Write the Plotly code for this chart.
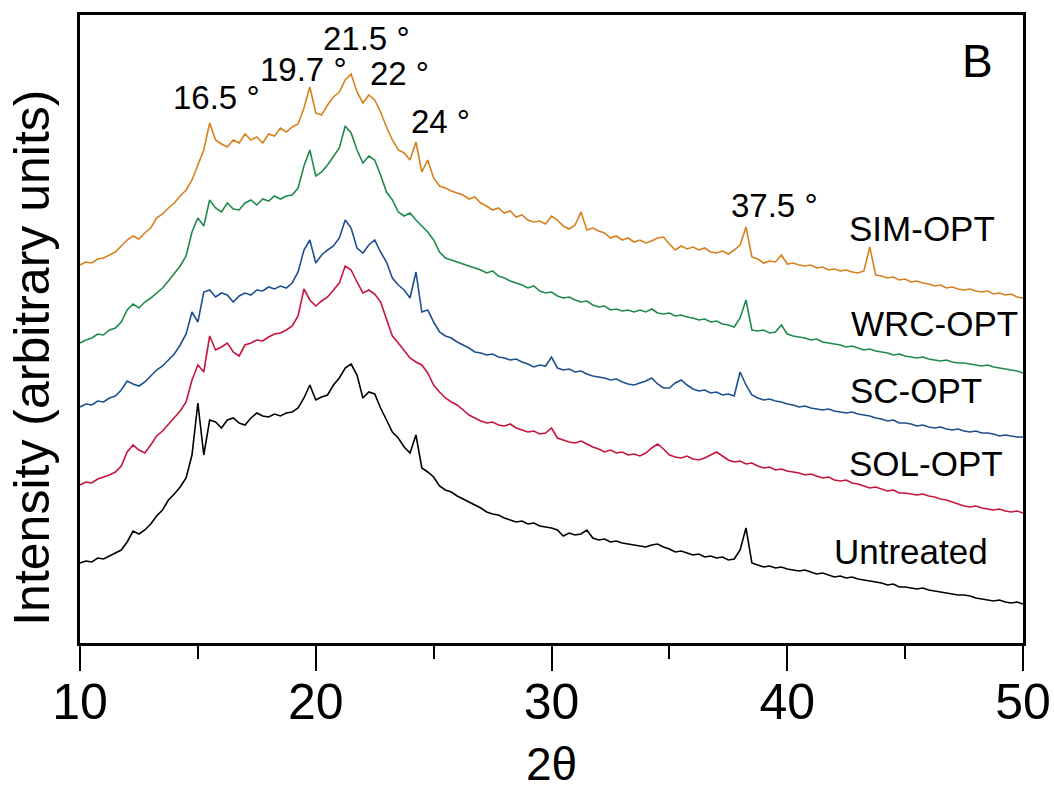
import numpy as np
import plotly.graph_objects as go

# 2-theta grid (degrees), 0.25 deg step
two_theta = [round(10 + 0.25 * i, 2) for i in range(161)]

sim_opt = [
    378, 381, 380, 384, 385, 388, 391, 397, 403, 407, 404, 410, 415, 425, 429, 435, 440, 447, 453, 463,
    478, 493, 520, 503, 499, 496, 503, 500, 509, 503, 506, 500, 509, 507, 515, 511, 516, 519, 535, 556,
    530, 528, 538, 546, 551, 563, 569, 551, 540, 548, 543, 531, 516, 503, 493, 490, 483, 501, 471, 483,
    465, 457, 455, 452, 450, 448, 444, 446, 440, 437, 433, 435, 430, 432, 426, 428, 423, 421, 422, 419,
    427, 423, 417, 414, 418, 431, 413, 415, 412, 410, 405, 407, 403, 405, 401, 403, 400, 402, 405, 406,
    399, 393, 397, 394, 396, 393, 395, 391, 390, 392, 389, 393, 398, 416, 386, 384, 380, 382, 381, 388,
    379, 380, 378, 377, 378, 375, 376, 373, 374, 372, 373, 371, 370, 372, 396, 368, 367, 365, 366, 363,
    364, 361, 362, 360, 359, 357, 358, 355, 356, 354, 353, 354, 352, 351, 352, 349, 350, 348, 349, 346,
    345,
]

wrc_opt = [
    300, 303, 305, 309, 308, 313, 315, 321, 333, 339, 335, 341, 345, 350, 355, 362, 369, 377, 387, 411,
    425, 417, 443, 435, 431, 440, 434, 433, 440, 443, 438, 444, 442, 447, 444, 447, 448, 455, 477, 493,
    467, 471, 478, 486, 495, 517, 510, 493, 480, 487, 483, 468, 451, 443, 431, 427, 430, 423, 417, 411,
    403, 391, 385, 383, 381, 379, 377, 375, 373, 370, 372, 367, 365, 362, 360, 358, 355, 357, 352, 350,
    351, 347, 345, 346, 343, 341, 342, 338, 336, 337, 333, 334, 332, 333, 331, 333, 331, 334, 330, 329,
    330, 327, 328, 326, 325, 323, 324, 321, 322, 319, 318, 316, 325, 343, 313, 312, 313, 310, 311, 318,
    309, 307, 306, 305, 303, 304, 301, 300, 299, 298, 296, 297, 295, 293, 294, 292, 291, 290, 288, 289,
    287, 286, 285, 286, 284, 283, 282, 283, 281, 280, 280, 279, 278, 277, 278, 276, 275, 274, 273, 272,
    270,
]

sc_opt = [
    236, 239, 238, 242, 241, 245, 247, 253, 262, 259, 257, 261, 267, 273, 277, 283, 289, 298, 309, 331,
    321, 351, 353, 346, 350, 348, 341, 347, 350, 348, 353, 352, 356, 354, 357, 355, 360, 371, 393, 403,
    380, 388, 393, 397, 405, 423, 415, 395, 390, 398, 403, 391, 381, 365, 358, 353, 345, 371, 331, 333,
    321, 311, 307, 305, 301, 298, 295, 291, 290, 288, 289, 286, 285, 283, 284, 281, 279, 276, 278, 277,
    286, 275, 273, 274, 271, 272, 269, 267, 266, 265, 263, 264, 261, 259, 258, 260, 262, 265, 259, 255,
    255, 260, 263, 258, 254, 252, 253, 250, 251, 248, 249, 247, 271, 258, 248, 245, 243, 244, 242, 241,
    239, 238, 236, 237, 235, 234, 233, 234, 232, 231, 230, 231, 229, 228, 227, 225, 224, 222, 223, 220,
    220, 219, 217, 218, 216, 215, 216, 214, 213, 214, 212, 211, 212, 210, 210, 209, 207, 208, 207, 206,
    206,
]

sol_opt = [
    158, 161, 160, 164, 166, 168, 171, 177, 191, 198, 193, 190, 198, 207, 212, 219, 225, 232, 241, 263,
    278, 271, 307, 293, 296, 300, 291, 287, 298, 300, 303, 302, 306, 309, 310, 313, 317, 327, 354, 343,
    337, 342, 346, 353, 360, 377, 373, 361, 350, 353, 349, 341, 325, 307, 300, 293, 285, 281, 278, 270,
    258, 251, 245, 241, 238, 233, 228, 225, 222, 220, 221, 218, 217, 219, 215, 213, 211, 212, 209, 210,
    215, 205, 203, 201, 200, 202, 199, 196, 194, 191, 193, 190, 191, 188, 189, 187, 190, 195, 199, 194,
    188, 186, 185, 187, 184, 183, 185, 188, 191, 187, 183, 181, 182, 179, 180, 177, 175, 176, 173, 174,
    172, 171, 170, 168, 169, 167, 165, 166, 163, 162, 163, 160, 159, 157, 155, 156, 154, 152, 153, 150,
    150, 149, 148, 149, 147, 146, 144, 143, 141, 139, 137, 136, 137, 135, 134, 133, 134, 132, 131, 132,
    130,
]

untreated = [
    80, 82, 81, 85, 84, 87, 90, 93, 101, 112, 109, 113, 119, 127, 133, 143, 149, 156, 165, 188,
    240, 188, 223, 221, 215, 223, 225, 220, 218, 225, 230, 227, 226, 229, 227, 230, 231, 235, 245, 258,
    243, 246, 248, 258, 265, 275, 279, 268, 245, 251, 249, 235, 223, 211, 205, 196, 190, 208, 175, 171,
    166, 157, 153, 151, 147, 144, 141, 138, 135, 131, 129, 128, 125, 123, 121, 122, 119, 120, 117, 116,
    115, 113, 107, 110, 108, 109, 113, 105, 103, 104, 101, 102, 100, 99, 98, 97, 96, 98, 99, 96,
    94, 91, 92, 90, 88, 89, 86, 87, 85, 86, 83, 84, 93, 115, 80, 78, 76, 77, 75, 76,
    74, 73, 72, 73, 71, 69, 70, 68, 66, 67, 65, 66, 64, 63, 62, 61, 60, 58, 59, 56,
    56, 55, 54, 55, 53, 52, 51, 50, 49, 48, 48, 47, 45, 44, 43, 42, 43, 41, 40, 41,
    39,
]

series_names = ["Untreated", "SOL-OPT", "SC-OPT", "WRC-OPT", "SIM-OPT"]
series_values = [untreated, sol_opt, sc_opt, wrc_opt, sim_opt]
series_colors = ["#000000", "#C8143C", "#1D4F91", "#1F8A4C", "#D6801F"]

# series label positions (x in degrees, y in intensity units)
label_x = [45.25, 45.9, 45.45, 46.25, 45.7]
label_y = [92, 180, 253, 320, 415]

peak_labels = ["16.5 °", "19.7 °", "21.5 °", "22 °", "24 °", "37.5 °"]
peak_x = [15.77, 19.50, 22.15, 23.55, 25.30, 39.45]
peak_y = [546, 574, 605, 570, 522, 438]

x_ticks = [10, 20, 30, 40, 50]
x_minor = [15, 25, 35, 45]

FONT = "Liberation Sans, Arial, sans-serif"

fig = go.Figure()
for name, vals, col in zip(series_names, series_values, series_colors):
    fig.add_trace(go.Scatter(x=two_theta, y=vals, mode="lines", name=name,
                             line=dict(color=col, width=1.6), showlegend=False))

annotations = []
for name, xx, yy in zip(series_names, label_x, label_y):
    annotations.append(dict(x=xx, y=yy, xref="x", yref="y", text=name, showarrow=False,
                            font=dict(family=FONT, size=35, color="black"),
                            xanchor="center", yanchor="middle"))
for t, xx, yy in zip(peak_labels, peak_x, peak_y):
    annotations.append(dict(x=xx, y=yy, xref="x", yref="y", text=t, showarrow=False,
                            font=dict(family=FONT, size=33, color="black"),
                            xanchor="center", yanchor="middle"))
annotations.append(dict(x=48.05, y=582, xref="x", yref="y", text="B", showarrow=False,
                        font=dict(family=FONT, size=46, color="black"),
                        xanchor="center", yanchor="middle"))
annotations.append(dict(x=-0.051, y=0.454, xref="paper", yref="paper",
                        text="Intensity (arbitrary units)", showarrow=False, textangle=-90,
                        font=dict(family=FONT, size=50, color="black"),
                        xanchor="center", yanchor="middle"))
annotations.append(dict(x=0.5, y=-0.193, xref="paper", yref="paper", text="2θ",
                        showarrow=False, font=dict(family=FONT, size=46, color="black"),
                        xanchor="center", yanchor="middle"))

fig.update_layout(
    width=1054, height=795,
    margin=dict(l=80, r=31, t=15, b=152, autoexpand=False),
    paper_bgcolor="white", plot_bgcolor="white",
    annotations=annotations,
    xaxis=dict(range=[10, 50], tickvals=x_ticks, ticktext=[str(v) for v in x_ticks],
               ticks="outside", ticklen=25, tickwidth=2, tickcolor="black",
               automargin=False, ticklabelstandoff=-12,
               showline=True, linewidth=2.5, linecolor="black", mirror=True,
               showgrid=False, zeroline=False,
               tickfont=dict(family=FONT, size=50, color="black"),
               minor=dict(tickvals=x_minor, ticks="outside", ticklen=13,
                          tickwidth=2, tickcolor="black", showgrid=False)),
    yaxis=dict(range=[0, 628], showticklabels=False, ticks="", automargin=False,
               showline=True, linewidth=2.5, linecolor="black", mirror=True,
               showgrid=False, zeroline=False),
)

fig.write_html("out.html")
